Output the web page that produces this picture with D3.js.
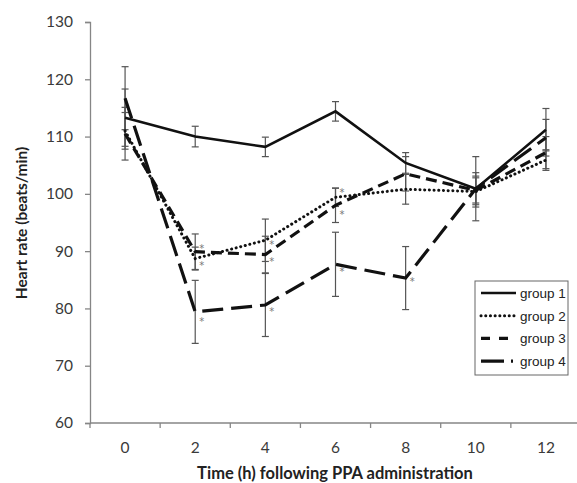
<!DOCTYPE html>
<html>
<head>
<meta charset="utf-8">
<script src="https://cdn.jsdelivr.net/npm/d3@7"></script>
<style>
  body { margin: 0; background: #fff; }
  svg { display: block; }
</style>
</head>
<body>
<svg id="chart"></svg>
<script>
var width = 577, height = 483

// data
var hours = [0, 2, 4, 6, 8, 10, 12]
var yTicks = [60, 70, 80, 90, 100, 110, 120, 130]
var groupNames = ["group 1", "group 2", "group 3", "group 4"]
var g1 = [113.3, 110.0, 108.2, 114.4, 105.4, 100.9, 111.2]
var g2 = [111.0, 88.7, 91.9, 99.4, 100.8, 100.4, 105.9]
var g3 = [110.5, 89.9, 89.4, 98.0, 103.5, 100.6, 107.2]
var g4 = [116.7, 79.4, 80.6, 87.7, 85.3, 100.9, 109.8]
var e1 = [5.0, 1.8, 1.7, 1.7, 1.8, 2.8, 3.7]
var e2 = [3.2, 2.0, 3.7, 1.6, 2.6, 2.7, 1.8]
var e3 = [4.6, 3.1, 3.2, 3.0, 3.0, 2.2, 2.8]
var e4 = [5.5, 5.5, 5.5, 5.6, 5.5, 5.6, 3.2]
var s1 = [0, 0, 0, 0, 0, 0, 0]
var s2 = [0, 1, 1, 1, 0, 0, 0]
var s3 = [0, 1, 1, 1, 0, 0, 0]
var s4 = [0, 1, 1, 1, 1, 0, 0]

var series = [
    {name: groupNames[0], vals: g1, err: e1, sig: s1},
    {name: groupNames[1], vals: g2, err: e2, sig: s2},
    {name: groupNames[2], vals: g3, err: e3, sig: s3},
    {name: groupNames[3], vals: g4, err: e4, sig: s4}
]

// line styles per group (legend keeps the dash-dot sample for group 4)
var styles = [
    {dash: null, legendDash: null, w: 2.6, cap: "butt"},
    {dash: "0.1,4.6", legendDash: "0.1,4.6", w: 3, cap: "round"},
    {dash: "11,6", legendDash: "9,9", w: 3.2, cap: "butt"},
    {dash: "21,8", legendDash: "23,7,2,7", w: 3.2, cap: "butt"}
]
// vertical nudge of the asterisks, per group and time point
var astDy = [
    [0, 0, 0, 0, 0, 0, 0],
    [0, 3, 1, -8, 0, 0, 0],
    [0, -7, 3, 6, 0, 0, 0],
    [0, 6, 3, 4, 0, 0, 0]
]

var svg = d3.select("#chart")
    .attr("width", width)
    .attr("height", height)

// category axis (Excel style), points sit in the middle of each band
var x = d3.scaleBand()
    .domain(hours)
    .range([90, 581])
    .padding(0)
var cx = function(h) { return x(h) + x.bandwidth() / 2 }

var y = d3.scaleLinear()
    .domain([60, 130])
    .range([423, 22])

var axisColor = "#868686"
var font = "Lato, 'Open Sans', sans-serif"

// y axis
var yAxis = svg.append("g")
    .attr("transform", "translate(90,0)")
    .call(d3.axisLeft(y).tickValues(yTicks).tickSize(5).tickPadding(12).tickFormat(d3.format("d")))
yAxis.select(".domain").attr("stroke", axisColor).attr("stroke-width", 1.3)
yAxis.selectAll(".tick line").attr("stroke", axisColor).attr("stroke-width", 1.3)
yAxis.selectAll("text")
    .attr("fill", "#3a3a3a")
    .style("font-family", font)
    .style("font-size", "15.5px")

// x axis
var xAxis = svg.append("g")
    .attr("transform", "translate(0,423)")
xAxis.append("line")
    .attr("x1", x.range()[0]).attr("x2", x.range()[1])
    .attr("stroke", axisColor).attr("stroke-width", 1.3)
var bounds = hours.map(function(h) { return x(h) })
xAxis.selectAll(".xt")
    .data(bounds)
    .enter().append("line")
    .attr("x1", d => d).attr("x2", d => d)
    .attr("y1", 0).attr("y2", 5)
    .attr("stroke", axisColor).attr("stroke-width", 1.3)
xAxis.selectAll(".xl")
    .data(hours)
    .enter().append("text")
    .attr("x", d => cx(d))
    .attr("y", 30)
    .attr("text-anchor", "middle")
    .attr("fill", "#3a3a3a")
    .style("font-family", font)
    .style("font-size", "15.5px")
    .text(d => d)

// titles
svg.append("text")
    .attr("x", 335)
    .attr("y", 479)
    .attr("text-anchor", "middle")
    .attr("fill", "#222")
    .style("font-family", font)
    .style("font-weight", "bold")
    .style("font-size", "16.5px")
    .text("Time (h) following PPA administration")

svg.append("text")
    .attr("transform", "translate(27,223) rotate(-90)")
    .attr("text-anchor", "middle")
    .attr("fill", "#222")
    .style("font-family", font)
    .style("font-weight", "bold")
    .style("font-size", "15.5px")
    .text("Heart rate (beats/min)")

// error bars
series.forEach(function(s) {
    var eb = svg.append("g").attr("class", "errbars")
    hours.forEach(function(h, i) {
        var top = y(s.vals[i] + s.err[i]), bot = y(s.vals[i] - s.err[i]), px = cx(h)
        eb.append("line").attr("x1", px).attr("x2", px).attr("y1", top).attr("y2", bot)
        eb.append("line").attr("x1", px - 3.5).attr("x2", px + 3.5).attr("y1", top).attr("y2", top)
        eb.append("line").attr("x1", px - 3.5).attr("x2", px + 3.5).attr("y1", bot).attr("y2", bot)
    })
    eb.selectAll("line").attr("stroke", "#555").attr("stroke-width", 1.2)
})

// lines
var line = d3.line()
    .x((d, i) => cx(hours[i]))
    .y(d => y(d))

series.forEach(function(s, k) {
    svg.append("path")
        .datum(s.vals)
        .attr("d", line)
        .attr("fill", "none")
        .attr("stroke", "#111")
        .attr("stroke-width", styles[k].w)
        .attr("stroke-dasharray", styles[k].dash)
        .attr("stroke-linecap", styles[k].cap)
})

// significance asterisks
series.forEach(function(s, k) {
    hours.forEach(function(h, i) {
        if (!s.sig[i]) return
        svg.append("text")
            .attr("x", cx(h) + 4)
            .attr("y", y(s.vals[i]) + astDy[k][i] + 7)
            .attr("fill", "#777")
            .style("font-family", "'DejaVu Sans', sans-serif")
            .style("font-size", "10px")
            .text("*")
    })
})

// legend
var legend = svg.append("g").attr("transform", "translate(475,281)")
legend.append("rect")
    .attr("width", 93).attr("height", 94)
    .attr("fill", "#fff")
    .attr("stroke", "#666")
    .attr("stroke-width", 1)
groupNames.forEach(function(n, k) {
    var ly = 12 + k * 22.7
    legend.append("line")
        .attr("x1", 6).attr("x2", 41)
        .attr("y1", ly).attr("y2", ly)
        .attr("stroke", "#111")
        .attr("stroke-width", styles[k].w)
        .attr("stroke-dasharray", styles[k].legendDash)
        .attr("stroke-linecap", styles[k].cap)
    legend.append("text")
        .attr("x", 45)
        .attr("y", ly + 5)
        .attr("fill", "#222")
        .style("font-family", "'Liberation Sans', Arial, sans-serif")
        .style("font-size", "13.5px")
        .text(n)
})
</script>
</body>
</html>
